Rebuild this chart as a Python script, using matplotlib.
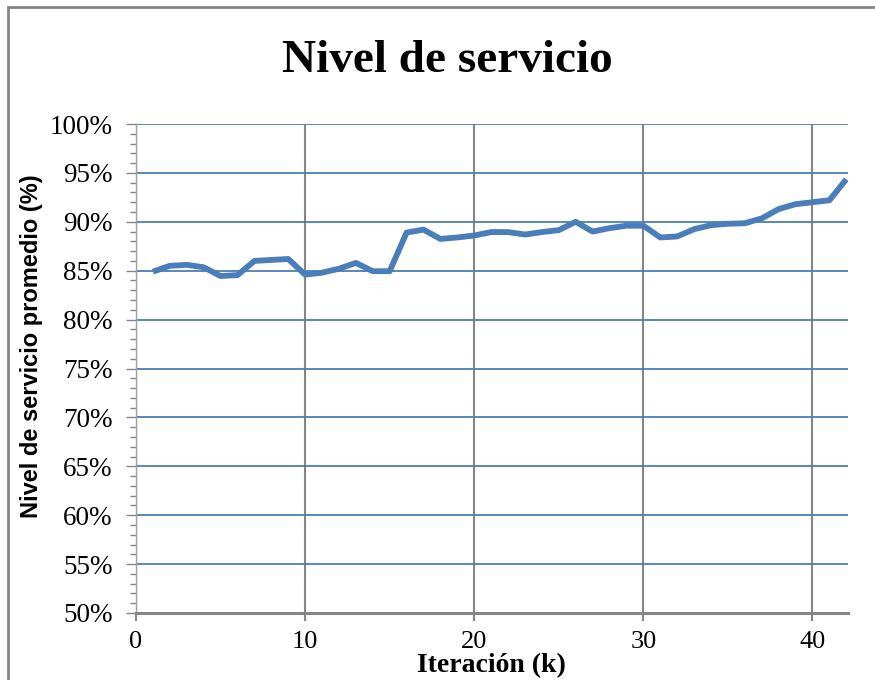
import numpy as np
import matplotlib
matplotlib.use("Agg")
import matplotlib.pyplot as plt
from matplotlib.patches import Rectangle
from matplotlib.ticker import MultipleLocator, FuncFormatter

# iteration number and average service level (%)
iteraciones = list(range(1, 43))
nivel_servicio = [84.9, 85.5, 85.6, 85.35, 84.45, 84.55, 86.0, 86.1, 86.2, 84.6,
                  84.8, 85.2, 85.8, 84.95, 84.95, 88.9, 89.2, 88.25, 88.4, 88.6,
                  88.95, 88.95, 88.7, 88.95, 89.15, 90.0, 89.0, 89.35, 89.6, 89.6,
                  88.4, 88.5, 89.25, 89.65, 89.8, 89.85, 90.35, 91.3, 91.8, 92.0,
                  92.2, 94.35]

azul = "#4a7ebb"
gris = "#868686"

fig = plt.figure(figsize=(8.75, 6.8), dpi=100)
ax = fig.add_axes([136/875, 1 - 613/680, 712/875, 489/680])

# outer chart frame
fig.patches.append(Rectangle((8/875, -0.05), 1.1, 1 - 7/680 + 0.05, transform=fig.transFigure,
                             fill=False, edgecolor=gris, linewidth=2))

ax.plot(iteraciones, nivel_servicio, color=azul, linewidth=4.2, solid_joinstyle="round",
        solid_capstyle="butt", zorder=3)

ax.set_xlim(0, 42.1)
ax.set_ylim(50, 100)
ax.xaxis.set_major_locator(MultipleLocator(10))
ax.yaxis.set_major_locator(MultipleLocator(5))
ax.yaxis.set_minor_locator(MultipleLocator(1))
ax.yaxis.set_major_formatter(FuncFormatter(lambda v, p: f"{v:.0f}%"))

ax.grid(axis="y", which="major", color=azul, linewidth=1.3, zorder=1)
ax.grid(axis="x", which="major", color=gris, linewidth=1.5, zorder=1)

for s in ["top", "right"]:
    ax.spines[s].set_visible(False)
ax.spines["left"].set_color("#a0a0a0")
ax.spines["left"].set_linewidth(1.0)
ax.spines["bottom"].set_color(gris)
ax.spines["bottom"].set_linewidth(2.2)
ax.spines["bottom"].set_zorder(4)

ax.tick_params(axis="y", which="major", length=7, color=gris, width=1, pad=10)
ax.tick_params(axis="y", which="minor", length=4, color=gris, width=1)
ax.tick_params(axis="x", which="major", length=6, color=gris, width=1.5, pad=7)

for lab in ax.get_yticklabels():
    lab.set_fontfamily("Liberation Serif")
    lab.set_fontsize(19.5)
for lab in ax.get_xticklabels():
    lab.set_fontfamily("Liberation Serif")
    lab.set_fontsize(19)

fig.text(447/875, 1 - 72/680, "Nivel de servicio", fontfamily="Liberation Serif",
         fontweight="bold", fontsize=34, ha="center", va="baseline")
fig.text(491/875, 1 - 672/680, "Iteración (k)", fontfamily="Liberation Serif",
         fontweight="bold", fontsize=20, ha="center", va="baseline")
fig.text(32/875, 1 - 346/680, "Nivel de servicio promedio (%)", fontfamily="Liberation Sans",
         fontweight="bold", fontsize=17, rotation=90, ha="center", va="center")

fig.savefig("out.png", dpi=100)
